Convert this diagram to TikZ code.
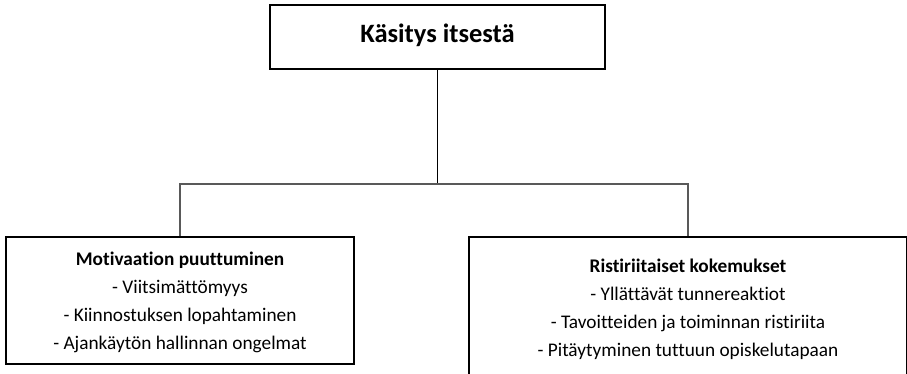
\documentclass[tikz,border=0pt]{standalone}
\usepackage{fontspec}
\setmainfont{Carlito}[Ligatures={NoCommon}]
\begin{document}
\begin{tikzpicture}[x=1pt,y=-1pt,
  box/.style={draw=black,line width=1.3pt,fill=white,inner sep=0pt},
  link/.style={draw=black!65,line width=1.6pt},
  stem/.style={draw=black,line width=1.3pt},
  heading/.style={anchor=base,font=\fontsize{26.5}{30}\selectfont\bfseries},
  subhead/.style={anchor=base,font=\fontsize{19.3}{22}\selectfont\bfseries},
  item/.style={anchor=base,font=\fontsize{19.3}{22}\selectfont}]
\useasboundingbox (0,0) rectangle (907,374);
% boxes
\node[box,minimum width=335pt,minimum height=64pt] (top) at (437.5,37) {};
\node[box,minimum width=348pt,minimum height=127pt] (left) at (180,300.5) {};
\node[box,minimum width=438pt,minimum height=160pt] (right) at (688,317) {};
% connectors
\coordinate (junc) at (437.5,184);
\draw[stem] (top.south) -- (junc);
\draw[link] (left.north) |- (junc) -| (right.north);
% texts
\node[heading] (t0) at (437.5,43) {Käsitys itsestä};
\node[subhead] (l0) at (180,265) {Motivaation puuttuminen};
\node[item] (l1) at (180,293) {- Viitsimättömyys};
\node[item] (l2) at (180,321) {- Kiinnostuksen lopahtaminen};
\node[item] (l3) at (180,349) {- Ajankäytön hallinnan ongelmat};
\node[subhead] (r0) at (688,272) {Ristiriitaiset kokemukset};
\node[item] (r1) at (688,300) {- Yllättävät tunnereaktiot};
\node[item] (r2) at (688,328) {- Tavoitteiden ja toiminnan ristiriita};
\node[item] (r3) at (688,356) {- Pitäytyminen tuttuun opiskelutapaan};
\end{tikzpicture}
\end{document}
